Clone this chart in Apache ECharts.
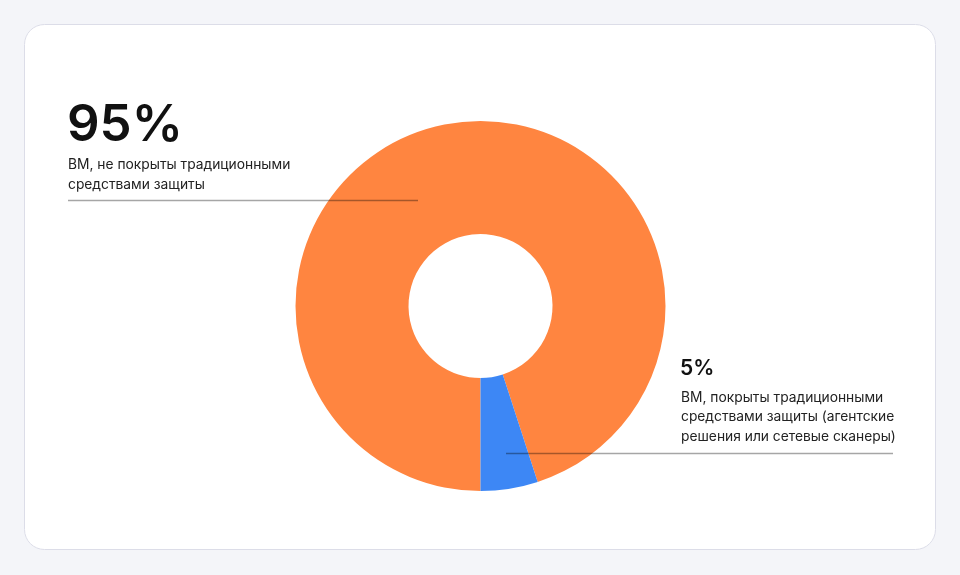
<!DOCTYPE html>
<html>
<head>
<meta charset="utf-8">
<script src="https://cdn.jsdelivr.net/npm/echarts@6/dist/echarts.min.js"></script>
<style>
html, body { margin: 0; padding: 0; background: #f4f5f9; }
#chart { width: 960px; height: 575px; }
</style>
</head>
<body>
<div id="chart"></div>
<script>
// data
const names = ['ВМ, не покрыты традиционными\nсредствами защиты',
               'ВМ, покрыты традиционными\nсредствами защиты (агентские\nрешения или сетевые сканеры)'];
const values = [95, 5];
const colors = ['#ff8540', '#3d87f5'];

const chart = echarts.init(document.getElementById('chart'));
const font = 'Inter, "Noto Sans", sans-serif';

chart.setOption({
    animation: false,
    graphic: [
        {
            type: 'rect', z: -10,
            shape: { x: 24.5, y: 24.5, width: 911, height: 525, r: 20 },
            style: { fill: '#ffffff', stroke: '#dcdde8', lineWidth: 1 }
        },
        {
            type: 'text', z: 100,
            style: { x: 67, y: 100, text: values[0] + '%', font: '600 51px ' + font, fill: '#111111', verticalAlign: 'top' }
        },
        {
            type: 'text', z: 100,
            style: { x: 68, y: 155, text: names[0], font: '400 13.8px ' + font, lineHeight: 20, fill: '#222222', verticalAlign: 'top' }
        },
        {
            type: 'line', z: 100,
            shape: { x1: 68, y1: 200.5, x2: 418, y2: 200.5 },
            style: { stroke: 'rgba(0,0,0,0.35)', lineWidth: 1.5 }
        },
        {
            type: 'text', z: 100,
            style: { x: 680, y: 358, text: values[1] + '%', font: '600 21px ' + font, fill: '#111111', verticalAlign: 'top' }
        },
        {
            type: 'text', z: 100,
            style: { x: 681, y: 388, text: names[1], font: '400 13.8px ' + font, lineHeight: 19.5, fill: '#222222', verticalAlign: 'top' }
        },
        {
            type: 'line', z: 100,
            shape: { x1: 506, y1: 453.5, x2: 893, y2: 453.5 },
            style: { stroke: 'rgba(0,0,0,0.35)', lineWidth: 1.5 }
        }
    ],
    series: [{
        type: 'pie',
        center: [480.5, 306],
        radius: [72, 185],
        startAngle: -90,
        clockwise: true,
        label: { show: false },
        labelLine: { show: false },
        emphasis: { disabled: true },
        data: values.map((v, i) => ({ value: v, name: names[i], itemStyle: { color: colors[i] } }))
    }]
});
</script>
</body>
</html>
